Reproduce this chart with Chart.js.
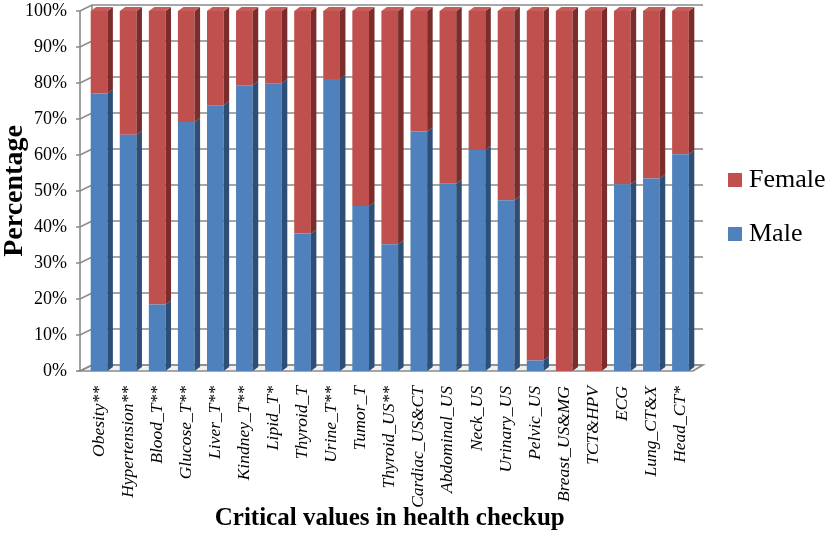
<!DOCTYPE html>
<html><head><meta charset="utf-8">
<script src="https://cdn.jsdelivr.net/npm/chart.js@4"></script>
<style>html,body{margin:0;padding:0;background:#fff}#wrap{width:829px;height:535px}</style>
</head><body><div id="wrap"><canvas id="c" width="829" height="535"></canvas></div>
<script>
const categories = ['Obesity**','Hypertension**','Blood_T**','Glucose_T**','Liver_T**','Kindney_T**','Lipid_T*','Thyroid_T','Urine_T**','Tumor_T','Thyroid_US**','Cardiac_US&CT','Abdominal_US','Neck_US','Urinary_US','Pelvic_US','Breast_US&MG','TCT&HPV','ECG','Lung_CT&X','Head_CT*'];
const maleValues   = [77.1, 65.6, 18.5, 69.2, 73.8, 79.4, 79.9, 38.2, 81.1, 45.8, 35.2, 66.5, 52.0, 61.4, 47.4, 2.9, 0, 0, 51.9, 53.5, 60.2];
const femaleValues = [22.9, 34.4, 81.5, 30.8, 26.2, 20.6, 20.1, 61.8, 18.9, 54.2, 64.8, 33.5, 48.0, 38.6, 52.6, 97.1, 100, 100, 48.1, 46.5, 39.8];
const yTickLabels = ['0%','10%','20%','30%','40%','50%','60%','70%','80%','90%','100%'];
const seriesNames = ['Male','Female'];
const frontColors = ['#4F81BD','#C0504D'];
const sideColors = ['#2D4E77','#7A2D2B'];
const topColors = ['#5B8CC6','#C85C59'];

Chart.defaults.font.family = "'Liberation Serif','Times New Roman',serif";
Chart.defaults.color = '#000';

const BAR_DX = 5.5, BAR_DY = 4;

const wall3d = {
  id: 'wall3d',
  beforeDatasetsDraw(chart) {
    const {ctx, chartArea: a, scales: {y}} = chart;
    const fx = a.left - 4.5, bx = fx + 12, dy = 6, rx = a.right + 8;
    const yb = y.getPixelForValue(0), yt = y.getPixelForValue(100);
    ctx.save();
    ctx.strokeStyle = '#8a8a8a';
    ctx.lineWidth = 1.6;
    ctx.fillStyle = '#f0f0f0';
    ctx.beginPath();
    ctx.moveTo(fx, yb); ctx.lineTo(bx, yb - dy); ctx.lineTo(rx, yb - dy); ctx.lineTo(rx - 10, yb);
    ctx.closePath(); ctx.fill(); ctx.stroke();
    y.ticks.forEach(t => {
      const py = y.getPixelForValue(t.value);
      ctx.beginPath();
      ctx.moveTo(fx - 4, py); ctx.lineTo(fx, py); ctx.lineTo(bx, py - dy); ctx.lineTo(rx, py - dy);
      ctx.stroke();
    });
    ctx.beginPath();
    ctx.moveTo(fx, yt); ctx.lineTo(fx, yb);
    ctx.moveTo(bx, yt - dy); ctx.lineTo(bx, yb - dy);
    ctx.stroke();
    ctx.restore();
  },
  afterDatasetsDraw(chart) {
    const ctx = chart.ctx;
    const n = chart.data.labels.length;
    ctx.save();
    for (let i = 0; i < n; i++) {
      let topInfo = null;
      chart.data.datasets.forEach((ds, di) => {
        const v = ds.data[i];
        if (!v) return;
        const el = chart.getDatasetMeta(di).data[i];
        const {x, y, base, width} = el.getProps(['x','y','base','width'], true);
        const l = x - width / 2, r = x + width / 2;
        const top = Math.min(y, base), bot = Math.max(y, base);
        ctx.fillStyle = sideColors[di];
        ctx.beginPath();
        ctx.moveTo(r, bot); ctx.lineTo(r, top); ctx.lineTo(r + BAR_DX, top - BAR_DY); ctx.lineTo(r + BAR_DX, bot - BAR_DY);
        ctx.closePath(); ctx.fill();
        topInfo = {l, r, top, di};
      });
      if (topInfo) {
        const {l, r, top, di} = topInfo;
        ctx.fillStyle = topColors[di];
        ctx.beginPath();
        ctx.moveTo(l, top); ctx.lineTo(l + BAR_DX, top - BAR_DY); ctx.lineTo(r + BAR_DX, top - BAR_DY); ctx.lineTo(r, top);
        ctx.closePath(); ctx.fill();
      }
    }
    ctx.restore();
  },
  afterDraw(chart) {
    const ctx = chart.ctx;
    const items = chart.data.datasets.map((d, i) => ({label: d.label, color: d.backgroundColor})).reverse();
    ctx.save();
    ctx.font = "26px 'Liberation Serif','Times New Roman',serif";
    ctx.textBaseline = 'middle';
    ctx.textAlign = 'left';
    items.forEach((it, k) => {
      const cy = 180 + k * 54;
      ctx.fillStyle = it.color;
      ctx.fillRect(728, cy - 7, 14, 14);
      ctx.fillStyle = '#000';
      ctx.fillText(it.label, 749, cy);
    });
    ctx.restore();
  }
};

new Chart(document.getElementById('c'), {
  type: 'bar',
  data: {
    labels: categories,
    datasets: [
      {label: seriesNames[0], data: maleValues, backgroundColor: frontColors[0], borderWidth: 0, barPercentage: 0.574, categoryPercentage: 1.0},
      {label: seriesNames[1], data: femaleValues, backgroundColor: frontColors[1], borderWidth: 0, barPercentage: 0.574, categoryPercentage: 1.0}
    ]
  },
  options: {
    responsive: false,
    animation: false,
    devicePixelRatio: 1,
    layout: {padding: {top: 11, right: 134, left: 0, bottom: 0}},
    plugins: {legend: {display: false}, tooltip: {enabled: false}},
    scales: {
      x: {
        stacked: true, offset: true,
        grid: {display: false, drawTicks: false}, border: {display: false},
        ticks: {autoSkip: false, maxRotation: 90, minRotation: 90, padding: 15, color: '#000', font: {size: 17.5, style: 'italic'}},
        title: {display: true, text: 'Critical values in health checkup', color: '#000', font: {size: 25, weight: 'bold', lineHeight: 1}, padding: {top: 0, bottom: 4}},
        afterFit: s => { s.height = 164; s.paddingLeft = 0; s.paddingRight = 0; s.paddingTop = 0; s.paddingBottom = 0; }
      },
      y: {
        stacked: true, min: 0, max: 100,
        grid: {display: false, drawTicks: false}, border: {display: false},
        ticks: {stepSize: 10, padding: 17.5, color: '#000', font: {size: 18}, callback: (v) => yTickLabels[Math.round(v / 10)]},
        title: {display: true, text: 'Percentage', color: '#000', font: {size: 28, weight: 'bold', lineHeight: 1}, padding: {top: 1, bottom: 0}},
        afterFit: s => { s.width = 84.5; s.paddingTop = 0; s.paddingBottom = 0; s.paddingLeft = 0; s.paddingRight = 0; }
      }
    }
  },
  plugins: [wall3d]
});
</script>
</body></html>
